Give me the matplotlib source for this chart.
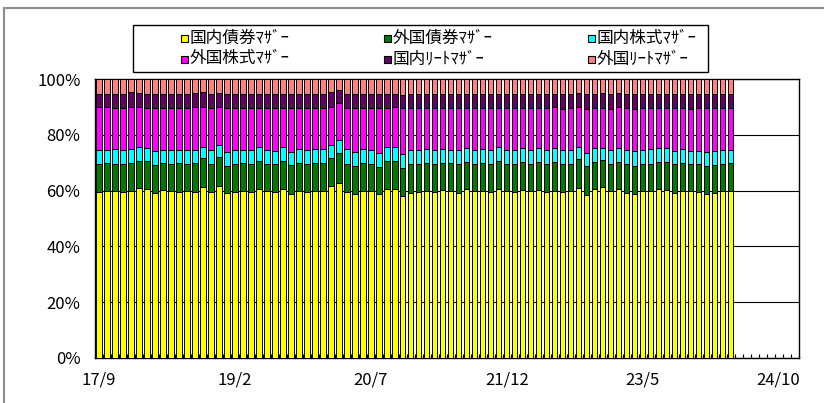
import numpy as np
import matplotlib
matplotlib.use("Agg")
import matplotlib.pyplot as plt
from matplotlib.patches import Rectangle
from matplotlib.ticker import FixedLocator

plt.rcParams["font.family"] = ["Noto Sans CJK JP", "DejaVu Sans"]

# monthly categories 17/9 .. 24/12 (bars only up to 24/4)
n_slots = 88
tick_pos = [0, 17, 34, 51, 68, 85]
tick_labels = ["17/9", "19/2", "20/7", "21/12", "23/5", "24/10"]

series_names = ["国内債券ﾏｻﾞｰ", "外国債券ﾏｻﾞｰ", "国内株式ﾏｻﾞｰ",
                "外国株式ﾏｻﾞｰ", "国内ﾘｰﾄﾏｻﾞｰ", "外国ﾘｰﾄﾏｻﾞｰ"]
series_colors = ["#FFFF00", "#007A00", "#00FFFF", "#FF00FF", "#660066", "#FF8080"]

# shares in percent, one value per month
bond_dom = [59.5, 59.8, 59.9, 59.5, 60.0, 61.0, 60.5, 59.3, 60.1, 59.8,
            59.6, 59.8, 59.5, 61.2, 59.6, 61.8, 59.2, 59.6, 60.0, 59.5,
            60.7, 59.8, 59.5, 60.7, 58.9, 59.9, 59.6, 59.9, 59.9, 61.5,
            62.6, 59.4, 58.9, 59.8, 59.8, 58.8, 60.5, 60.7, 58.2, 59.3,
            59.6, 59.9, 59.5, 60.2, 59.8, 59.3, 60.4, 59.7, 59.9, 59.4,
            60.6, 59.8, 59.5, 60.3, 59.7, 60.1, 59.6, 60.0, 59.4, 59.8,
            61.0, 58.6, 60.5, 61.2, 59.8, 60.5, 59.3, 58.8, 60.0, 60.0,
            60.5, 60.1, 59.1, 59.9, 59.8, 59.6, 58.8, 59.3, 59.9, 60.0]
bond_for = [10.1, 10.0, 9.7, 10.1, 10.0, 9.6, 10.0, 9.9, 9.8, 9.8,
            10.3, 9.8, 10.3, 10.6, 9.8, 10.1, 9.6, 10.0, 10.0, 10.1,
            9.9, 9.8, 9.9, 10.0, 10.1, 9.9, 9.9, 10.1, 10.1, 10.3,
            10.7, 10.1, 10.0, 10.1, 9.8, 9.8, 10.1, 10.0, 9.9, 10.1,
            10.0, 9.9, 10.1, 9.8, 10.0, 10.1, 9.9, 10.0, 9.9, 10.1,
            10.0, 9.9, 10.0, 9.9, 10.0, 10.0, 9.9, 10.4, 10.0, 9.8,
            10.3, 10.1, 9.9, 9.9, 9.7, 9.9, 10.1, 10.1, 9.6, 9.6,
            9.6, 10.0, 10.3, 10.0, 9.8, 9.8, 10.1, 9.9, 9.7, 9.8]
stock_dom = [5.1, 4.9, 5.2, 5.0, 5.0, 5.2, 4.9, 5.0, 4.7, 5.0,
             4.6, 4.9, 4.7, 4.0, 5.0, 4.5, 5.0, 4.9, 4.6, 4.9,
             5.2, 4.9, 4.8, 4.9, 5.0, 5.0, 4.9, 4.8, 4.8, 4.6,
             4.9, 5.4, 5.1, 4.9, 5.1, 5.0, 5.0, 4.9, 5.1, 5.0,
             5.0, 5.0, 4.9, 5.0, 4.9, 5.1, 4.9, 5.0, 5.0, 5.0,
             4.9, 5.0, 5.1, 5.0, 4.9, 5.0, 5.0, 4.9, 5.0, 5.1,
             4.5, 4.9, 4.7, 4.3, 5.2, 4.9, 5.1, 5.2, 5.1, 5.2,
             5.2, 5.3, 4.9, 4.9, 4.7, 4.9, 5.0, 4.9, 5.1, 4.9]
stock_for = [15.1, 15.1, 14.8, 15.0, 14.8, 14.2, 14.3, 15.3, 15.1, 15.0,
             15.1, 15.2, 15.4, 14.1, 15.2, 13.7, 15.9, 15.1, 15.0, 15.2,
             13.9, 15.1, 15.5, 14.0, 15.6, 14.8, 15.2, 14.9, 14.9, 13.4,
             13.3, 14.7, 15.5, 14.9, 15.0, 16.0, 14.1, 14.2, 16.4, 15.2,
             15.1, 14.9, 15.2, 14.7, 15.0, 15.2, 14.5, 14.9, 14.9, 15.2,
             14.2, 15.0, 15.1, 14.5, 15.1, 14.6, 15.2, 14.5, 15.0, 14.9,
             14.3, 15.8, 14.4, 14.2, 14.7, 14.6, 15.0, 15.3, 14.9, 14.8,
             14.3, 14.1, 15.2, 14.8, 15.1, 15.2, 15.7, 15.4, 14.9, 14.9]
reit_dom = [4.9, 4.9, 5.1, 5.1, 5.5, 5.1, 5.1, 5.1, 5.0, 5.1,
            5.1, 5.0, 5.0, 5.4, 5.1, 4.9, 5.0, 5.1, 5.1, 5.0,
            5.1, 5.1, 5.0, 5.1, 5.1, 5.1, 5.1, 5.0, 5.0, 5.4,
            4.4, 5.1, 5.2, 5.0, 5.0, 5.0, 5.0, 5.0, 4.5, 5.1,
            5.0, 5.0, 5.0, 5.0, 5.0, 5.0, 5.0, 5.1, 5.0, 5.0,
            5.0, 5.0, 5.0, 5.0, 5.0, 5.0, 5.0, 5.0, 5.4, 5.2,
            4.9, 5.4, 5.3, 5.3, 5.4, 5.0, 5.3, 5.4, 5.2, 5.2,
            5.2, 5.3, 5.3, 5.2, 5.2, 5.3, 5.2, 5.3, 5.2, 5.2]

series = [bond_dom, bond_for, stock_dom, stock_for, reit_dom]
reit_for = list(100 - np.sum(series, axis=0))
series.append(reit_for)

W, H = 824, 403
fig = plt.figure(figsize=(W / 100, H / 100), dpi=100)


def fx(x):
    return x / W


def fy(y):
    return 1 - y / H


# outer chart frame (right and bottom edges run off the picture)
fig.add_artist(Rectangle((fx(4), fy(420)), fx(840) - fx(4), fy(8) - fy(420),
                         transform=fig.transFigure, fill=False,
                         edgecolor="#8c8c8c", lw=1.5))

ax = fig.add_axes([fx(95), fy(358), fx(798.5) - fx(95), fy(79) - fy(358)])

x = np.arange(len(bond_dom))
bottom = np.zeros(len(x))
for vals, col in zip(series, series_colors):
    ax.bar(x, vals, bottom=bottom, width=0.68, color=col,
           edgecolor="black", linewidth=0.7, zorder=3)
    bottom += np.array(vals)

ax.set_xlim(-0.5, n_slots - 0.5)
ax.set_ylim(0, 100)

ax.set_yticks(np.arange(0, 101, 20))
ax.set_yticklabels([f"{v}%" for v in range(0, 101, 20)])
ax.yaxis.grid(True, color="black", linewidth=0.8, zorder=0)
ax.set_axisbelow(True)

ax.set_xticks(tick_pos)
ax.set_xticklabels(tick_labels)
ax.xaxis.set_minor_locator(FixedLocator(np.arange(n_slots + 1) - 0.5))
ax.tick_params(axis="x", which="major", length=0, pad=10, labelsize=12)
ax.tick_params(axis="x", which="minor", length=3, direction="in",
               width=0.8, color="black")
ax.tick_params(axis="y", length=0, pad=10.5, labelsize=12)

for s in ax.spines.values():
    s.set_color("black")
    s.set_linewidth(1.0)

# legend box
fig.add_artist(Rectangle((fx(133), fy(72)), fx(708) - fx(133), fy(25) - fy(72),
                         transform=fig.transFigure, fill=False,
                         edgecolor="black", lw=1.0))
col_x = [181, 384, 588]
row_y = [38, 59]
for i, (name, col) in enumerate(zip(series_names, series_colors)):
    cx = col_x[i % 3]
    cy = row_y[i // 3]
    fig.add_artist(Rectangle((fx(cx), fy(cy + 4)), fx(7), 7 / H,
                             transform=fig.transFigure, facecolor=col,
                             edgecolor="black", lw=0.8))
    fig.text(fx(cx + 9), fy(cy), name, fontsize=12, va="center", ha="left")

fig.savefig("out.png", dpi=100)
